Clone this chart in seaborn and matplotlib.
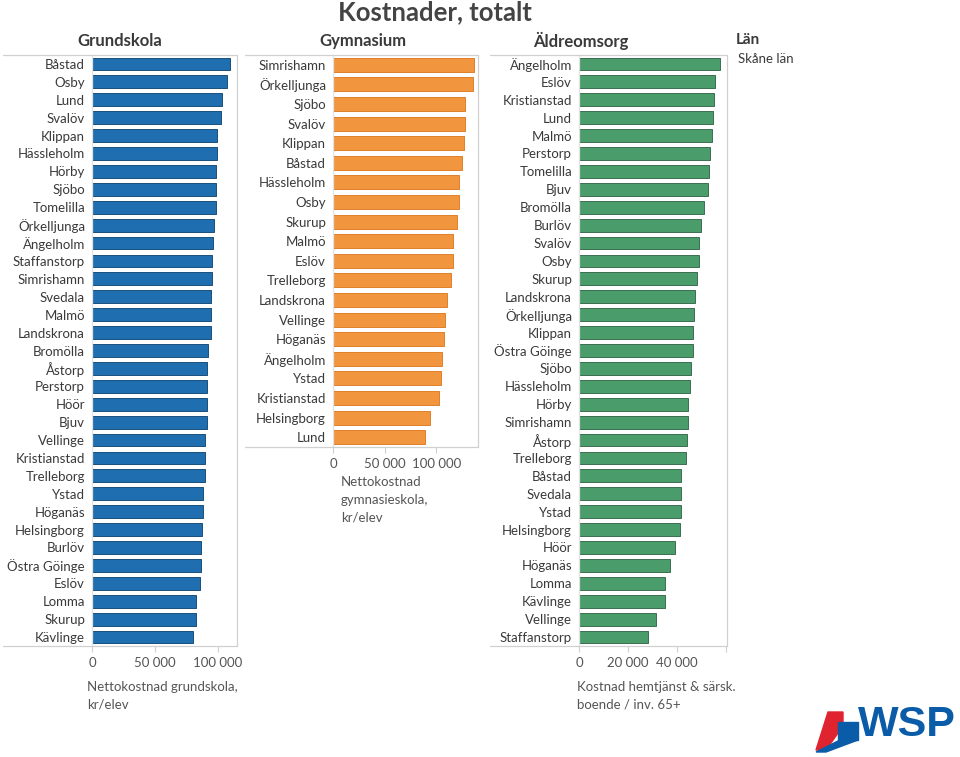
import pandas as pd
import matplotlib
import matplotlib.pyplot as plt
import seaborn as sns
from matplotlib.lines import Line2D
from matplotlib.patches import Polygon

matplotlib.use('Agg')

# Grundskola: nettokostnad kr/elev
grund_names = ['Båstad', 'Osby', 'Lund', 'Svalöv', 'Klippan', 'Hässleholm', 'Hörby', 'Sjöbo',
               'Tomelilla', 'Örkelljunga', 'Ängelholm', 'Staffanstorp', 'Simrishamn', 'Svedala',
               'Malmö', 'Landskrona', 'Bromölla', 'Åstorp', 'Perstorp', 'Höör', 'Bjuv', 'Vellinge',
               'Kristianstad', 'Trelleborg', 'Ystad', 'Höganäs', 'Helsingborg', 'Burlöv',
               'Östra Göinge', 'Eslöv', 'Lomma', 'Skurup', 'Kävlinge']
grund_values = [109900, 107700, 103700, 102700, 99800, 99200, 99000, 99000,
                99000, 97100, 96300, 95800, 95800, 94400,
                94400, 94400, 92600, 91800, 91800, 91200, 91200, 90200,
                90200, 90200, 88100, 88100, 87600, 87000,
                87000, 86200, 82500, 82500, 80600]

# Gymnasium: nettokostnad gymnasieskola kr/elev
gym_names = ['Simrishamn', 'Örkelljunga', 'Sjöbo', 'Svalöv', 'Klippan', 'Båstad', 'Hässleholm',
             'Osby', 'Skurup', 'Malmö', 'Eslöv', 'Trelleborg', 'Landskrona', 'Vellinge',
             'Höganäs', 'Ängelholm', 'Ystad', 'Kristianstad', 'Helsingborg', 'Lund']
gym_values = [137200, 135500, 127800, 127800, 126800, 125200, 122600,
              122000, 120700, 116800, 116800, 114900, 111000, 108800,
              108100, 105500, 104900, 103000, 93600, 89400]

# Äldreomsorg: kostnad hemtjänst & särskilt boende per inv. 65+
aldre_names = ['Ängelholm', 'Eslöv', 'Kristianstad', 'Lund', 'Malmö', 'Perstorp', 'Tomelilla',
               'Bjuv', 'Bromölla', 'Burlöv', 'Svalöv', 'Osby', 'Skurup', 'Landskrona',
               'Örkelljunga', 'Klippan', 'Östra Göinge', 'Sjöbo', 'Hässleholm', 'Hörby',
               'Simrishamn', 'Åstorp', 'Trelleborg', 'Båstad', 'Svedala', 'Ystad',
               'Helsingborg', 'Höör', 'Höganäs', 'Lomma', 'Kävlinge', 'Vellinge', 'Staffanstorp']
aldre_values = [57700, 55600, 55200, 55000, 54600, 53700, 53200,
                52800, 51300, 50100, 49100, 49100, 48400, 47600,
                46900, 46700, 46700, 45800, 45600, 44800,
                44800, 44400, 43700, 41600, 41600, 41600,
                41200, 39200, 37300, 35200, 35200, 31700, 28400]

W, H = 960, 757
FONT = ['Lato', 'DejaVu Sans']
TXT = '#3a3a3a'
GREY = '#d0d0d0'

sns.set_style('white')
plt.rcParams['font.family'] = FONT

fig = plt.figure(figsize=(W / 100, H / 100), dpi=100)


def fx(x):
    return x / W


def fy(y):
    return 1 - y / H


def hline(x0, x1, y):
    fig.add_artist(Line2D([fx(x0), fx(x1)], [fy(y), fy(y)], color=GREY, lw=0.9,
                          transform=fig.transFigure))


def vline(x, y0, y1):
    fig.add_artist(Line2D([fx(x), fx(x)], [fy(y0), fy(y1)], color=GREY, lw=0.9,
                          transform=fig.transFigure))


def panel(names, values, color, edge, box, xmax, ticks, ticklabels, title, title_x,
          frame_left, xlabel=None, xlabel_pos=None):
    x0, x1, y0, y1 = box
    ax = fig.add_axes([fx(x0), fy(y1), (x1 - x0) / W, (y1 - y0) / H])
    df = pd.DataFrame({'kommun': names, 'value': values})
    sns.barplot(data=df, x='value', y='kommun', color=color, edgecolor=edge,
                linewidth=0.7, width=0.72, saturation=1, ax=ax)
    ax.set_xlim(0, xmax)
    ax.set_xticks(ticks)
    ax.set_xticklabels(ticklabels)
    ax.set_xlabel('')
    ax.set_ylabel('')
    for s in ['top', 'bottom', 'right']:
        ax.spines[s].set_visible(False)
    ax.spines['left'].set_color('#e2e2e2')
    ax.spines['left'].set_linewidth(0.9)
    ax.tick_params(axis='y', length=0, pad=5, labelsize=9.5, labelcolor=TXT)
    ax.tick_params(axis='x', length=4, width=0.8, color=GREY, pad=4, labelsize=9.5,
                   labelcolor='#555555', bottom=True)
    # pane frame
    hline(frame_left, x1, y0)
    hline(frame_left, x1, y1)
    vline(x1, y0, y1)
    fig.text(fx(title_x), fy(41), title, ha='center', va='center', fontsize=12,
             fontweight='bold', color=TXT)
    if xlabel:
        fig.text(fx(xlabel_pos[0]), fy(xlabel_pos[1]), xlabel, ha='left', va='top',
                 fontsize=9.5, color='#555555', linespacing=1.55)
    return ax


panel(grund_names, grund_values, '#1f6fb0', '#1a4f7a', (92, 237, 55, 646), 115400,
      [0, 50000, 100000], ['0', '50 000', '100 000'], 'Grundskola', 120, 3,
      'Nettokostnad grundskola,\nkr/elev', (87, 681))

panel(gym_names, gym_values, '#f2953f', '#e07f2a', (333, 478, 55, 447), 140600,
      [0, 50000, 100000], ['0', '50 000', '100 000'], 'Gymnasium', 363, 245,
      'Nettokostnad\ngymnasieskola,\nkr/elev', (341, 476))

panel(aldre_names, aldre_values, '#4a9c6a', '#3b6e50', (579, 727, 55, 646), 60600,
      [0, 20000, 40000, 60000], ['0', '20 000', '40 000', ''], 'Äldreomsorg', 581, 490,
      'Kostnad hemtjänst & särsk.\nboende / inv. 65+', (577, 681))

# main title
fig.text(fx(435), fy(12), 'Kostnader, totalt', ha='center', va='center', fontsize=18.5,
         fontweight='bold', color='#444444')

# colour legend header
fig.text(fx(736), fy(40), 'Län', ha='left', va='center', fontsize=11,
         fontweight='bold', color=TXT)
fig.text(fx(738), fy(59), 'Skåne län', ha='left', va='center', fontsize=9.5, color=TXT)

# WSP logo
red = '#e0242f'
blue = '#0a5ca8'
fig.add_artist(Polygon([(fx(828), fy(712)), (fx(843), fy(712)), (fx(843), fy(726)),
                        (fx(826), fy(750)), (fx(816), fy(750))], closed=True,
                       color=red, transform=fig.transFigure))
fig.add_artist(Polygon([(fx(816), fy(752)), (fx(840), fy(740)), (fx(858), fy(740)),
                        (fx(826), fy(752))], closed=True, color=blue,
                       transform=fig.transFigure))
fig.add_artist(Polygon([(fx(838), fy(722)), (fx(858), fy(722)), (fx(858), fy(740)),
                        (fx(838), fy(740))], closed=True, color=blue,
                       transform=fig.transFigure))
fig.text(fx(858), fy(725), 'WSP', ha='left', va='center', fontsize=31,
         fontweight='bold', color=blue, family=['Liberation Sans', 'DejaVu Sans'])

plt.savefig('out.png', dpi=100)
plt.close()
